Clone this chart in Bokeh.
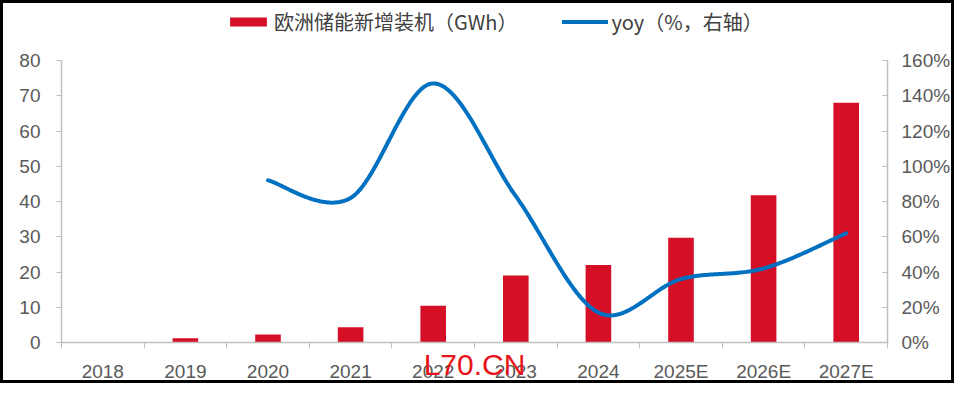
import numpy as np
from bokeh.plotting import figure
from bokeh.models import (Range1d, LinearAxis, FixedTicker, Legend, LegendItem,
                          PrintfTickFormatter)
from bokeh.embed import file_html
from bokeh.resources import INLINE

# ---- data ----
years = ["2018", "2019", "2020", "2021", "2022", "2023", "2024", "2025E", "2026E", "2027E"]
capacity_gwh = [0.0, 1.2, 2.3, 4.3, 10.4, 19.0, 22.0, 29.7, 41.8, 68.0]
yoy_years = ["2020", "2021", "2022", "2023", "2024", "2025E", "2026E", "2027E"]
yoy_pct = [92, 82, 147, 83, 17, 36, 42, 62]
left_ticks = [0, 10, 20, 30, 40, 50, 60, 70, 80]
right_ticks = [0, 20, 40, 60, 80, 100, 120, 140, 160]

BAR_COLOR = "#D50F25"
LINE_COLOR = "#0070C0"
AXIS_COLOR = "#BFBFBF"
TEXT_COLOR = "#595959"
FONT = "Liberation Sans"
CJK = "Noto Sans CJK SC"

# layout (pixels): the frame reaches the canvas top so that the legend sits inside it;
# the axes are bounded to 0..80 / 0..160%.
W, H = 954, 383
B_LEFT, B_RIGHT, B_BOTTOM = 58, 70, 44
FRAME_H = H - B_BOTTOM
AXIS_TOP_PX = 57                      # where the value 80 sits, from the canvas top
PLOT_H = FRAME_H - AXIS_TOP_PX
L_MAX, R_MAX = left_ticks[-1], right_ticks[-1]
l_top = L_MAX * FRAME_H / PLOT_H
r_top = R_MAX * FRAME_H / PLOT_H

p = figure(width=W, height=H, x_range=Range1d(-0.5, 9.5), y_range=Range1d(0, l_top),
           output_backend="svg", toolbar_location=None,
           min_border_left=B_LEFT, min_border_right=B_RIGHT, min_border_top=0,
           min_border_bottom=B_BOTTOM,
           styles={"border": "3px solid black"})
p.extra_y_ranges = {"yoy": Range1d(0, r_top)}
p.xgrid.visible = False
p.ygrid.visible = False
p.outline_line_color = None
p.background_fill_color = "white"
p.border_fill_color = "white"

xs = list(range(len(years)))
bars = p.vbar(x=xs, top=capacity_gwh, width=0.31, color=BAR_COLOR, line_width=0)

# smoothed line (Catmull-Rom through the yoy points, as Excel's smoothed line)
px = np.array([years.index(y) for y in yoy_years], dtype=float)
py = np.array(yoy_pct, dtype=float)
P = np.column_stack([px, py])
Pext = np.vstack([P[0], P, P[-1]])
curve = []
for i in range(1, len(Pext) - 2):
    p0, p1, p2, p3 = Pext[i - 1], Pext[i], Pext[i + 1], Pext[i + 2]
    c1 = p1 + (p2 - p0) / 6.0
    c2 = p2 - (p3 - p1) / 6.0
    t = np.linspace(0, 1, 40)[:, None]
    seg = ((1 - t) ** 3) * p1 + 3 * ((1 - t) ** 2) * t * c1 + 3 * (1 - t) * t ** 2 * c2 + t ** 3 * p2
    curve.append(seg if i == 1 else seg[1:])
curve = np.vstack(curve)
line = p.line(curve[:, 0], curve[:, 1], y_range_name="yoy", line_color=LINE_COLOR,
              line_width=4, line_cap="round", line_join="round")

# x axis (the red watermark is drawn as its axis label)
xa = p.xaxis[0]
xa.ticker = FixedTicker(ticks=xs, minor_ticks=[i - 0.5 for i in range(len(years) + 1)])
xa.major_label_overrides = {i: y for i, y in enumerate(years)}
xa.major_tick_line_color = None
xa.major_tick_out = 0
xa.major_tick_in = 0
xa.minor_tick_out = 6
xa.minor_tick_in = 0
xa.minor_tick_line_color = AXIS_COLOR
xa.axis_line_color = AXIS_COLOR
xa.axis_line_width = 1.5
xa.major_label_standoff = 12
xa.major_label_text_font = FONT
xa.major_label_text_font_size = "19px"
xa.major_label_text_color = TEXT_COLOR
xa.axis_label = "L70.CN"
xa.axis_label_text_font = FONT
xa.axis_label_text_font_size = "30px"
xa.axis_label_text_font_style = "normal"
xa.axis_label_text_color = "#E8141B"
xa.axis_label_standoff = -37

# left axis
ya = p.yaxis[0]
ya.ticker = FixedTicker(ticks=left_ticks)
ya.bounds = (0, L_MAX)
ya.minor_tick_line_color = None
ya.major_tick_out = 5
ya.major_tick_in = 0
ya.major_tick_line_color = AXIS_COLOR
ya.axis_line_color = AXIS_COLOR
ya.axis_line_width = 1.5
ya.major_label_standoff = 16
ya.major_label_text_font = FONT
ya.major_label_text_font_size = "19px"
ya.major_label_text_color = TEXT_COLOR

# right axis
ra = LinearAxis(y_range_name="yoy", ticker=FixedTicker(ticks=right_ticks),
                formatter=PrintfTickFormatter(format="%d%%"), bounds=(0, R_MAX))
ra.minor_tick_line_color = None
ra.major_tick_out = 0
ra.major_tick_in = 5
ra.major_tick_line_color = AXIS_COLOR
ra.axis_line_color = AXIS_COLOR
ra.axis_line_width = 1.5
ra.major_label_standoff = 14
ra.major_label_text_font = FONT
ra.major_label_text_font_size = "19px"
ra.major_label_text_color = TEXT_COLOR
p.add_layout(ra, "right")

# legend at the top, inside the (tall) frame
legend = Legend(items=[LegendItem(label="欧洲储能新增装机（GWh）", renderers=[bars]),
                       LegendItem(label="yoy（%，右轴）", renderers=[line])],
                orientation="horizontal", location=(164, FRAME_H - 33),
                label_text_font=CJK, label_text_font_size="20px", label_text_color="#404040",
                glyph_width=46, glyph_height=11, label_standoff=3, spacing=45,
                padding=0, margin=0, border_line_color=None, background_fill_alpha=0)
p.add_layout(legend, "center")

open("out.html", "w").write(file_html(p, INLINE))
